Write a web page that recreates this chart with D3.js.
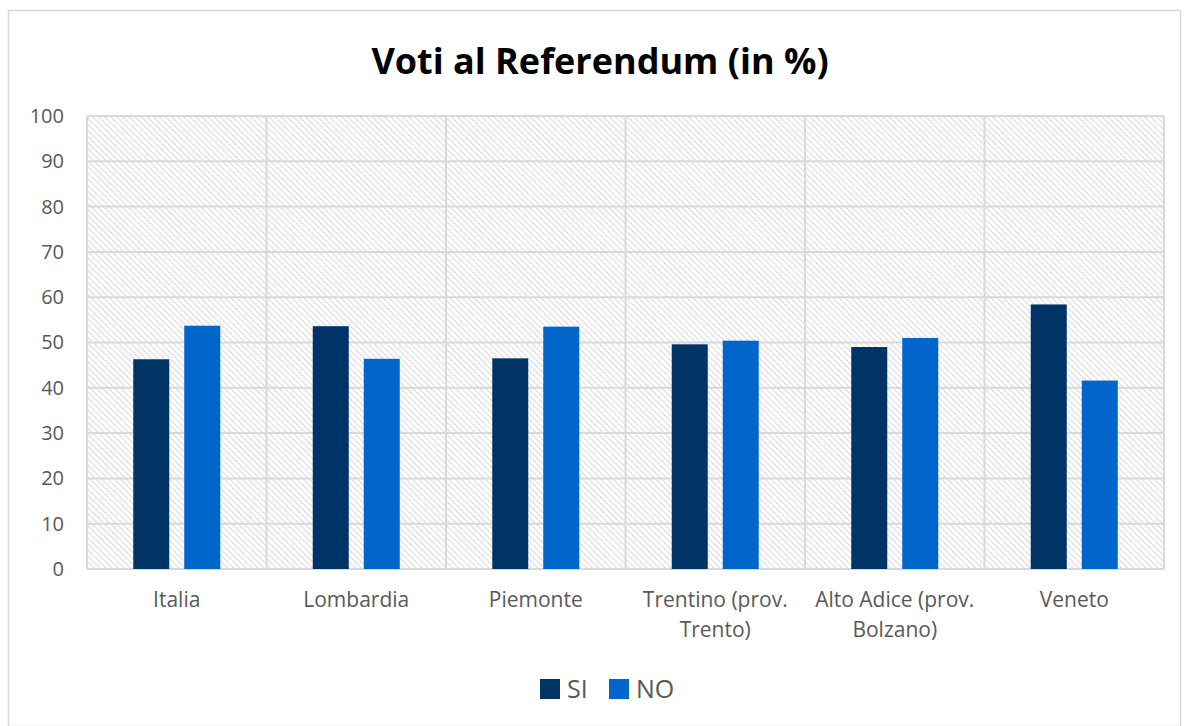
<!DOCTYPE html>
<html>
<head>
<meta charset="utf-8">
<script src="https://cdn.jsdelivr.net/npm/d3@7"></script>
<style>
  body { margin: 0; background: #fff; }
  text { font-family: "Open Sans", "Noto Sans", sans-serif; }
</style>
</head>
<body>
<div id="chart"></div>
<script>
// data
var regioni = ["Italia", "Lombardia", "Piemonte", "Trentino (prov. Trento)", "Alto Adice (prov. Bolzano)", "Veneto"];
var etichette = [["Italia"], ["Lombardia"], ["Piemonte"], ["Trentino (prov.", "Trento)"], ["Alto Adice (prov.", "Bolzano)"], ["Veneto"]];
var serie = ["SI", "NO"];
var votiSI = [46.3, 53.6, 46.5, 49.6, 49.0, 58.4];
var votiNO = [53.7, 46.4, 53.5, 50.4, 51.0, 41.6];
var yTicks = [0, 10, 20, 30, 40, 50, 60, 70, 80, 90, 100];
var colori = ["#003366", "#0066CC"];

var W = 1189, H = 726;
var margin = { top: 116, right: 25, bottom: 157, left: 87 };
var width = W - margin.left - margin.right;
var height = H - margin.top - margin.bottom;

var svg = d3.select("#chart").append("svg")
    .attr("width", W).attr("height", H);

// hatched fill for plot area (lines going down to the right)
var defs = svg.append("defs");
var pat = defs.append("pattern")
    .attr("id", "hatch")
    .attr("patternUnits", "userSpaceOnUse")
    .attr("width", 4.3).attr("height", 4.3)
    .attr("patternTransform", "rotate(45)");
pat.append("rect").attr("width", 4.3).attr("height", 4.3).attr("fill", "#fff");
pat.append("line")
    .attr("x1", 0).attr("y1", 1).attr("x2", 4.3).attr("y2", 1)
    .attr("stroke", "#dadada").attr("stroke-width", 1.5)
    .attr("stroke-dasharray", "1.6,0.55");

// outer border
svg.append("rect")
    .attr("x", 8.5).attr("y", 10.5)
    .attr("width", W - 17).attr("height", H - 10)
    .attr("fill", "#fff").attr("stroke", "#d9d9d9").attr("stroke-width", 1.5);

// title
svg.append("text")
    .attr("x", 600).attr("y", 74)
    .attr("text-anchor", "middle")
    .attr("font-size", "36px").attr("font-weight", "bold")
    .attr("fill", "#000")
    .text("Voti al Referendum (in %)");

var g = svg.append("g")
    .attr("transform", "translate(" + margin.left + "," + margin.top + ")");

var x0 = d3.scaleBand().domain(regioni).range([0, width]).paddingInner(0).paddingOuter(0);
var x1 = d3.scaleBand().domain(serie).range([0, x0.bandwidth()]).paddingInner(0.294).paddingOuter(0.907);
var y = d3.scaleLinear().domain([0, 100]).range([height, 0]);

g.append("rect")
    .attr("width", width).attr("height", height)
    .attr("fill", "url(#hatch)");

// horizontal gridlines
g.selectAll(".hgrid").data(yTicks).enter().append("line")
    .attr("x1", 0).attr("x2", width)
    .attr("y1", function(d) { return y(d); })
    .attr("y2", function(d) { return y(d); })
    .attr("stroke", "#d9d9d9").attr("stroke-width", 2);

// vertical gridlines at category borders
var bordi = regioni.map(function(d) { return x0(d); }).concat([width]);
g.selectAll(".vgrid").data(bordi).enter().append("line")
    .attr("x1", function(d) { return d; }).attr("x2", function(d) { return d; })
    .attr("y1", 0).attr("y2", height)
    .attr("stroke", "#d9d9d9").attr("stroke-width", 2);

// bars
var valori = [votiSI, votiNO];
serie.forEach(function(s, si) {
    g.selectAll(".bar-" + s).data(regioni).enter().append("rect")
        .attr("x", function(d) { return x0(d) + x1(s); })
        .attr("width", x1.bandwidth())
        .attr("y", function(d, i) { return y(valori[si][i]); })
        .attr("height", function(d, i) { return height - y(valori[si][i]); })
        .attr("fill", colori[si]);
});

// y axis labels
var yAxis = d3.axisLeft(y).tickValues(yTicks).tickSize(0).tickPadding(23);
var ya = g.append("g").call(yAxis);
ya.select(".domain").remove();
ya.selectAll("text")
    .attr("font-size", "20px").attr("fill", "#595959")
    .style("font-family", "'Open Sans', sans-serif");

// category labels
var xl = g.selectAll(".xlab").data(regioni).enter().append("text")
    .attr("x", function(d) { return x0(d) + x0.bandwidth() / 2; })
    .attr("y", height + 38)
    .attr("text-anchor", "middle")
    .attr("font-size", "21px").attr("fill", "#595959");
xl.each(function(d, i) {
    var t = d3.select(this);
    etichette[i].forEach(function(riga, k) {
        t.append("tspan")
            .attr("x", x0(d) + x0.bandwidth() / 2)
            .attr("dy", k === 0 ? 0 : 30)
            .text(riga);
    });
});

// legend
var leg = svg.append("g").attr("transform", "translate(540,679)");
var legX = [0, 69];
serie.forEach(function(s, i) {
    leg.append("rect")
        .attr("x", legX[i]).attr("y", 0)
        .attr("width", 20).attr("height", 20)
        .attr("fill", colori[i]);
    leg.append("text")
        .attr("x", legX[i] + 27).attr("y", 19)
        .attr("font-size", "25px").attr("fill", "#595959")
        .text(s);
});
</script>
</body>
</html>
